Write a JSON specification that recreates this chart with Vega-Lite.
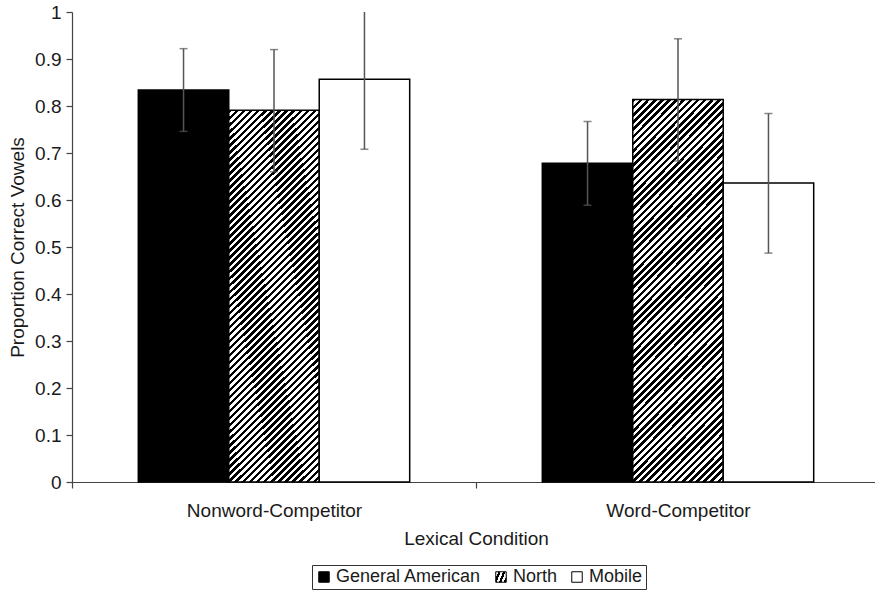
{
  "$schema": "https://vega.github.io/schema/vega-lite/v6.json",
  "width": 803,
  "height": 470,
  "autosize": {"type": "none"},
  "padding": {"left": 72, "top": 12, "right": 0, "bottom": 109},
  "background": "white",
  "config": {
    "view": {"stroke": null},
    "font": "Liberation Sans",
    "axis": {
      "labelFont": "Liberation Sans",
      "titleFont": "Liberation Sans",
      "labelFontSize": 19,
      "titleFontSize": 19,
      "titleFontWeight": "normal",
      "labelColor": "#1a1a1a",
      "titleColor": "#1a1a1a",
      "domainColor": "#444",
      "tickColor": "#444",
      "domainWidth": 1.2,
      "tickWidth": 1.2,
      "grid": false
    },
    "legend": {
      "labelFont": "Liberation Sans",
      "labelFontSize": 18,
      "labelColor": "#1a1a1a"
    }
  },
  "data": {
    "values": [
      {"condition": "Nonword-Competitor", "dialect": "General American", "mean": 0.834, "lo": 0.746, "hi": 0.922},
      {"condition": "Nonword-Competitor", "dialect": "North", "mean": 0.791, "lo": 0.660, "hi": 0.920},
      {"condition": "Nonword-Competitor", "dialect": "Mobile", "mean": 0.857, "lo": 0.708, "hi": 1.007},
      {"condition": "Word-Competitor", "dialect": "General American", "mean": 0.678, "lo": 0.589, "hi": 0.767},
      {"condition": "Word-Competitor", "dialect": "North", "mean": 0.814, "lo": 0.683, "hi": 0.943},
      {"condition": "Word-Competitor", "dialect": "Mobile", "mean": 0.636, "lo": 0.487, "hi": 0.784}
    ]
  },
  "encoding": {
    "x": {
      "field": "condition",
      "type": "nominal",
      "sort": ["Nonword-Competitor", "Word-Competitor"],
      "scale": {"paddingInner": 0, "paddingOuter": 0, "range": [0, 808]},
      "axis": {
        "title": "Lexical Condition",
        "labelAngle": 0,
        "tickBand": "extent",
        "tickSize": 6,
        "labelPadding": 13,
        "titlePadding": 9
      }
    },
    "xOffset": {
      "field": "dialect",
      "type": "nominal",
      "sort": ["General American", "North", "Mobile"],
      "scale": {"paddingInner": 0, "paddingOuter": 0.733}
    }
  },
  "layer": [
    {
      "mark": {"type": "bar", "stroke": "black", "strokeWidth": 1.5},
      "encoding": {
        "y": {
          "field": "mean",
          "type": "quantitative",
          "scale": {"domain": [0, 1], "nice": false},
          "axis": {
            "title": "Proportion Correct Vowels",
            "values": [0, 0.1, 0.2, 0.3, 0.4, 0.5, 0.6, 0.7, 0.8, 0.9, 1],
            "format": ".1~f",
            "tickSize": 6,
            "labelPadding": 5,
            "titlePadding": 7
          }
        },
        "fill": {
          "field": "dialect",
          "type": "nominal",
          "scale": {
            "domain": ["General American", "North", "Mobile"],
            "range": [
              "black",
              {"expr": "{gradient:'linear',x1:0,y1:0,x2:0.4238,y2:1.7756,stops:[{offset:0,color:'#000'},{offset:0.005,color:'#000'},{offset:0.005,color:'#fff'},{offset:0.01,color:'#fff'},{offset:0.01,color:'#000'},{offset:0.015,color:'#000'},{offset:0.015,color:'#fff'},{offset:0.02,color:'#fff'},{offset:0.02,color:'#000'},{offset:0.025,color:'#000'},{offset:0.025,color:'#fff'},{offset:0.03,color:'#fff'},{offset:0.03,color:'#000'},{offset:0.035,color:'#000'},{offset:0.035,color:'#fff'},{offset:0.04,color:'#fff'},{offset:0.04,color:'#000'},{offset:0.045,color:'#000'},{offset:0.045,color:'#fff'},{offset:0.05,color:'#fff'},{offset:0.05,color:'#000'},{offset:0.055,color:'#000'},{offset:0.055,color:'#fff'},{offset:0.06,color:'#fff'},{offset:0.06,color:'#000'},{offset:0.065,color:'#000'},{offset:0.065,color:'#fff'},{offset:0.07,color:'#fff'},{offset:0.07,color:'#000'},{offset:0.075,color:'#000'},{offset:0.075,color:'#fff'},{offset:0.08,color:'#fff'},{offset:0.08,color:'#000'},{offset:0.085,color:'#000'},{offset:0.085,color:'#fff'},{offset:0.09,color:'#fff'},{offset:0.09,color:'#000'},{offset:0.095,color:'#000'},{offset:0.095,color:'#fff'},{offset:0.1,color:'#fff'},{offset:0.1,color:'#000'},{offset:0.105,color:'#000'},{offset:0.105,color:'#fff'},{offset:0.11,color:'#fff'},{offset:0.11,color:'#000'},{offset:0.115,color:'#000'},{offset:0.115,color:'#fff'},{offset:0.12,color:'#fff'},{offset:0.12,color:'#000'},{offset:0.125,color:'#000'},{offset:0.125,color:'#fff'},{offset:0.13,color:'#fff'},{offset:0.13,color:'#000'},{offset:0.135,color:'#000'},{offset:0.135,color:'#fff'},{offset:0.14,color:'#fff'},{offset:0.14,color:'#000'},{offset:0.145,color:'#000'},{offset:0.145,color:'#fff'},{offset:0.15,color:'#fff'},{offset:0.15,color:'#000'},{offset:0.155,color:'#000'},{offset:0.155,color:'#fff'},{offset:0.16,color:'#fff'},{offset:0.16,color:'#000'},{offset:0.165,color:'#000'},{offset:0.165,color:'#fff'},{offset:0.17,color:'#fff'},{offset:0.17,color:'#000'},{offset:0.175,color:'#000'},{offset:0.175,color:'#fff'},{offset:0.18,color:'#fff'},{offset:0.18,color:'#000'},{offset:0.185,color:'#000'},{offset:0.185,color:'#fff'},{offset:0.19,color:'#fff'},{offset:0.19,color:'#000'},{offset:0.195,color:'#000'},{offset:0.195,color:'#fff'},{offset:0.2,color:'#fff'},{offset:0.2,color:'#000'},{offset:0.205,color:'#000'},{offset:0.205,color:'#fff'},{offset:0.21,color:'#fff'},{offset:0.21,color:'#000'},{offset:0.215,color:'#000'},{offset:0.215,color:'#fff'},{offset:0.22,color:'#fff'},{offset:0.22,color:'#000'},{offset:0.225,color:'#000'},{offset:0.225,color:'#fff'},{offset:0.23,color:'#fff'},{offset:0.23,color:'#000'},{offset:0.235,color:'#000'},{offset:0.235,color:'#fff'},{offset:0.24,color:'#fff'},{offset:0.24,color:'#000'},{offset:0.245,color:'#000'},{offset:0.245,color:'#fff'},{offset:0.25,color:'#fff'},{offset:0.25,color:'#000'},{offset:0.255,color:'#000'},{offset:0.255,color:'#fff'},{offset:0.26,color:'#fff'},{offset:0.26,color:'#000'},{offset:0.265,color:'#000'},{offset:0.265,color:'#fff'},{offset:0.27,color:'#fff'},{offset:0.27,color:'#000'},{offset:0.275,color:'#000'},{offset:0.275,color:'#fff'},{offset:0.28,color:'#fff'},{offset:0.28,color:'#000'},{offset:0.285,color:'#000'},{offset:0.285,color:'#fff'},{offset:0.29,color:'#fff'},{offset:0.29,color:'#000'},{offset:0.295,color:'#000'},{offset:0.295,color:'#fff'},{offset:0.3,color:'#fff'},{offset:0.3,color:'#000'},{offset:0.305,color:'#000'},{offset:0.305,color:'#fff'},{offset:0.31,color:'#fff'},{offset:0.31,color:'#000'},{offset:0.315,color:'#000'},{offset:0.315,color:'#fff'},{offset:0.32,color:'#fff'},{offset:0.32,color:'#000'},{offset:0.325,color:'#000'},{offset:0.325,color:'#fff'},{offset:0.33,color:'#fff'},{offset:0.33,color:'#000'},{offset:0.335,color:'#000'},{offset:0.335,color:'#fff'},{offset:0.34,color:'#fff'},{offset:0.34,color:'#000'},{offset:0.345,color:'#000'},{offset:0.345,color:'#fff'},{offset:0.35,color:'#fff'},{offset:0.35,color:'#000'},{offset:0.355,color:'#000'},{offset:0.355,color:'#fff'},{offset:0.36,color:'#fff'},{offset:0.36,color:'#000'},{offset:0.365,color:'#000'},{offset:0.365,color:'#fff'},{offset:0.37,color:'#fff'},{offset:0.37,color:'#000'},{offset:0.375,color:'#000'},{offset:0.375,color:'#fff'},{offset:0.38,color:'#fff'},{offset:0.38,color:'#000'},{offset:0.385,color:'#000'},{offset:0.385,color:'#fff'},{offset:0.39,color:'#fff'},{offset:0.39,color:'#000'},{offset:0.395,color:'#000'},{offset:0.395,color:'#fff'},{offset:0.4,color:'#fff'},{offset:0.4,color:'#000'},{offset:0.405,color:'#000'},{offset:0.405,color:'#fff'},{offset:0.41,color:'#fff'},{offset:0.41,color:'#000'},{offset:0.415,color:'#000'},{offset:0.415,color:'#fff'},{offset:0.42,color:'#fff'},{offset:0.42,color:'#000'},{offset:0.425,color:'#000'},{offset:0.425,color:'#fff'},{offset:0.43,color:'#fff'},{offset:0.43,color:'#000'},{offset:0.435,color:'#000'},{offset:0.435,color:'#fff'},{offset:0.44,color:'#fff'},{offset:0.44,color:'#000'},{offset:0.445,color:'#000'},{offset:0.445,color:'#fff'},{offset:0.45,color:'#fff'},{offset:0.45,color:'#000'},{offset:0.455,color:'#000'},{offset:0.455,color:'#fff'},{offset:0.46,color:'#fff'},{offset:0.46,color:'#000'},{offset:0.465,color:'#000'},{offset:0.465,color:'#fff'},{offset:0.47,color:'#fff'},{offset:0.47,color:'#000'},{offset:0.475,color:'#000'},{offset:0.475,color:'#fff'},{offset:0.48,color:'#fff'},{offset:0.48,color:'#000'},{offset:0.485,color:'#000'},{offset:0.485,color:'#fff'},{offset:0.49,color:'#fff'},{offset:0.49,color:'#000'},{offset:0.495,color:'#000'},{offset:0.495,color:'#fff'},{offset:0.5,color:'#fff'},{offset:0.5,color:'#000'},{offset:0.505,color:'#000'},{offset:0.505,color:'#fff'},{offset:0.51,color:'#fff'},{offset:0.51,color:'#000'},{offset:0.515,color:'#000'},{offset:0.515,color:'#fff'},{offset:0.52,color:'#fff'},{offset:0.52,color:'#000'},{offset:0.525,color:'#000'},{offset:0.525,color:'#fff'},{offset:0.53,color:'#fff'},{offset:0.53,color:'#000'},{offset:0.535,color:'#000'},{offset:0.535,color:'#fff'},{offset:0.54,color:'#fff'},{offset:0.54,color:'#000'},{offset:0.545,color:'#000'},{offset:0.545,color:'#fff'},{offset:0.55,color:'#fff'},{offset:0.55,color:'#000'},{offset:0.555,color:'#000'},{offset:0.555,color:'#fff'},{offset:0.56,color:'#fff'},{offset:0.56,color:'#000'},{offset:0.565,color:'#000'},{offset:0.565,color:'#fff'},{offset:0.57,color:'#fff'},{offset:0.57,color:'#000'},{offset:0.575,color:'#000'},{offset:0.575,color:'#fff'},{offset:0.58,color:'#fff'},{offset:0.58,color:'#000'},{offset:0.585,color:'#000'},{offset:0.585,color:'#fff'},{offset:0.59,color:'#fff'},{offset:0.59,color:'#000'},{offset:0.595,color:'#000'},{offset:0.595,color:'#fff'},{offset:0.6,color:'#fff'},{offset:0.6,color:'#000'},{offset:0.605,color:'#000'},{offset:0.605,color:'#fff'},{offset:0.61,color:'#fff'},{offset:0.61,color:'#000'},{offset:0.615,color:'#000'},{offset:0.615,color:'#fff'},{offset:0.62,color:'#fff'},{offset:0.62,color:'#000'},{offset:0.625,color:'#000'},{offset:0.625,color:'#fff'},{offset:0.63,color:'#fff'},{offset:0.63,color:'#000'},{offset:0.635,color:'#000'},{offset:0.635,color:'#fff'},{offset:0.64,color:'#fff'},{offset:0.64,color:'#000'},{offset:0.645,color:'#000'},{offset:0.645,color:'#fff'},{offset:0.65,color:'#fff'},{offset:0.65,color:'#000'},{offset:0.655,color:'#000'},{offset:0.655,color:'#fff'},{offset:0.66,color:'#fff'},{offset:0.66,color:'#000'},{offset:0.665,color:'#000'},{offset:0.665,color:'#fff'},{offset:0.67,color:'#fff'}]}"},
              "white"
            ]
          },
          "legend": {
            "title": null,
            "orient": "none",
            "legendX": 240,
            "legendY": 553,
            "direction": "horizontal",
            "symbolType": "square",
            "symbolSize": 110,
            "symbolStrokeColor": "black",
            "symbolStrokeWidth": 1,
            "labelOffset": 3,
            "columnPadding": 10,
            "padding": 3,
            "strokeColor": "#333",
            "fillColor": "white"
          }
        }
      }
    },
    {
      "mark": {"type": "rule", "color": "#555", "strokeWidth": 1.5, "clip": true},
      "encoding": {
        "y": {"field": "lo", "type": "quantitative"},
        "y2": {"field": "hi"}
      }
    },
    {
      "mark": {"type": "tick", "color": "#555", "thickness": 1.5, "size": 8, "clip": true},
      "encoding": {
        "y": {"field": "lo", "type": "quantitative"}
      }
    },
    {
      "mark": {"type": "tick", "color": "#555", "thickness": 1.5, "size": 8, "clip": true},
      "encoding": {
        "y": {"field": "hi", "type": "quantitative"}
      }
    }
  ]
}
